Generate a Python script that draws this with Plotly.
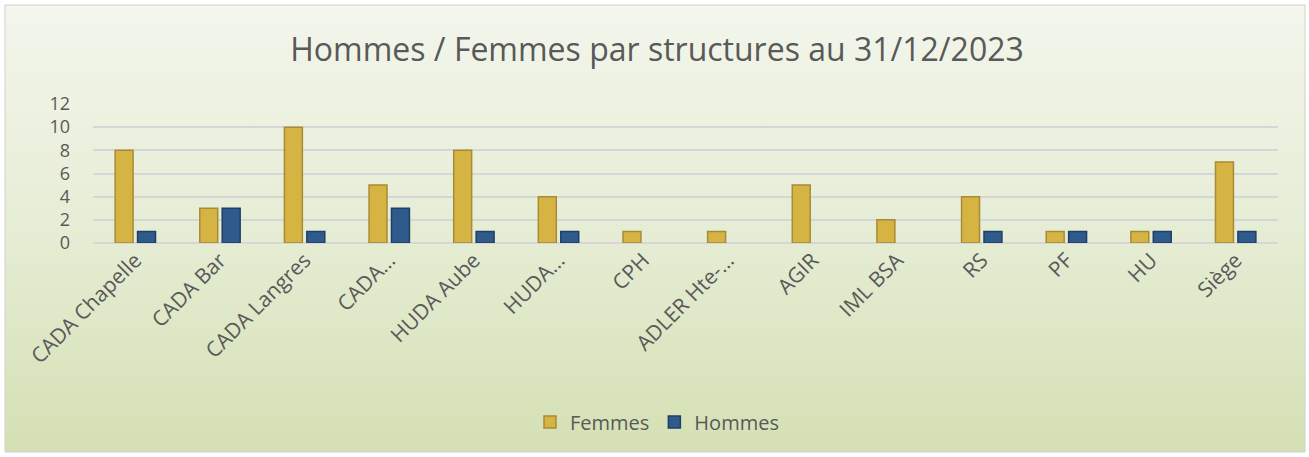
import base64
import plotly.graph_objects as go

categories = ["CADA Chapelle", "CADA Bar", "CADA Langres", "CADA…", "HUDA Aube", "HUDA…",
              "CPH", "ADLER Hte-…", "AGIR", "IML BSA", "RS", "PF", "HU", "Siège"]
femmes = [8, 3, 10, 5, 8, 4, 1, 1, 5, 2, 4, 1, 1, 7]
hommes = [1, 3, 1, 3, 1, 1, 0, 0, 0, 0, 1, 1, 1, 1]
title_text = "Hommes / Femmes par structures au 31/12/2023"

W, H = 1309, 457
ML, MR, MT, MB = 93, 31, 104, 214
pw, ph = W - ML - MR, H - MT - MB

def px_to_paper_x(px):
    return (px - ML) / pw

def px_to_paper_y(py):
    return (H - MB - py) / ph

svg = ('<svg xmlns="http://www.w3.org/2000/svg" width="100" height="100" preserveAspectRatio="none">'
       '<defs><linearGradient id="g" x1="0" y1="0" x2="0" y2="1">'
       '<stop offset="0" stop-color="#f3f6ec"/><stop offset="0.5" stop-color="#e6edd5"/>'
       '<stop offset="1" stop-color="#d4e0b3"/></linearGradient></defs>'
       '<rect width="100" height="100" fill="url(#g)"/></svg>')
src = "data:image/svg+xml;base64," + base64.b64encode(svg.encode()).decode()

font = "Open Sans, Noto Sans, sans-serif"
grey = "#595959"

fig = go.Figure()
fig.add_trace(go.Bar(name="Femmes", x=categories, y=femmes,
                     marker=dict(color="#d6b444",
                                 line=dict(color="#a88b35", width=[1.5 if v else 0 for v in femmes]))))
fig.add_trace(go.Bar(name="Hommes", x=categories, y=hommes,
                     marker=dict(color="#2f5a8c",
                                 line=dict(color="#203f66", width=[1.5 if v else 0 for v in hommes]))))

x0, x1 = px_to_paper_x(5), px_to_paper_x(1305)
y0, y1 = px_to_paper_y(452), px_to_paper_y(5)

fig.update_layout(
    width=W, height=H,
    margin=dict(l=ML, r=MR, t=MT, b=MB, pad=0),
    paper_bgcolor="white", plot_bgcolor="rgba(0,0,0,0)",
    barmode="group", bargap=0.47, bargroupgap=0.2,
    font=dict(family=font, color=grey),
    title=dict(text=title_text, x=657 / W, xref="container", xanchor="center",
               y=1 - 50 / H, yanchor="middle",
               font=dict(size=32, color=grey, family=font)),
    xaxis=dict(tickangle=-45, tickfont=dict(size=21, color=grey), showgrid=False,
               showline=False, ticks=""),
    yaxis=dict(range=[0, 12], dtick=2, tickfont=dict(size=18, color=grey),
               gridcolor="#d6d6d6", gridwidth=2, zeroline=True, zerolinecolor="#d6d6d6",
               zerolinewidth=2, showline=False, ticks="", ticklabelstandoff=22),
    legend=dict(orientation="h", x=0.5 + (657 - (ML + pw / 2)) / pw, xanchor="center",
                y=px_to_paper_y(422), yanchor="middle",
                font=dict(size=20, color=grey), bgcolor="rgba(0,0,0,0)",
                itemwidth=30, traceorder="normal"),
    images=[dict(source=src, xref="paper", yref="paper", x=x0, y=y1,
                 sizex=x1 - x0, sizey=y1 - y0, sizing="stretch", layer="below",
                 xanchor="left", yanchor="top")],
    shapes=[dict(type="rect", xref="paper", yref="paper", x0=x0, x1=x1, y0=y0, y1=y1,
                 line=dict(color="#d0d0d0", width=1), fillcolor="rgba(0,0,0,0)", layer="above")],
)

fig.write_html("out.html", config={"displayModeBar": False},
               post_script="document.body.style.margin='0';document.body.style.overflow='hidden';")
